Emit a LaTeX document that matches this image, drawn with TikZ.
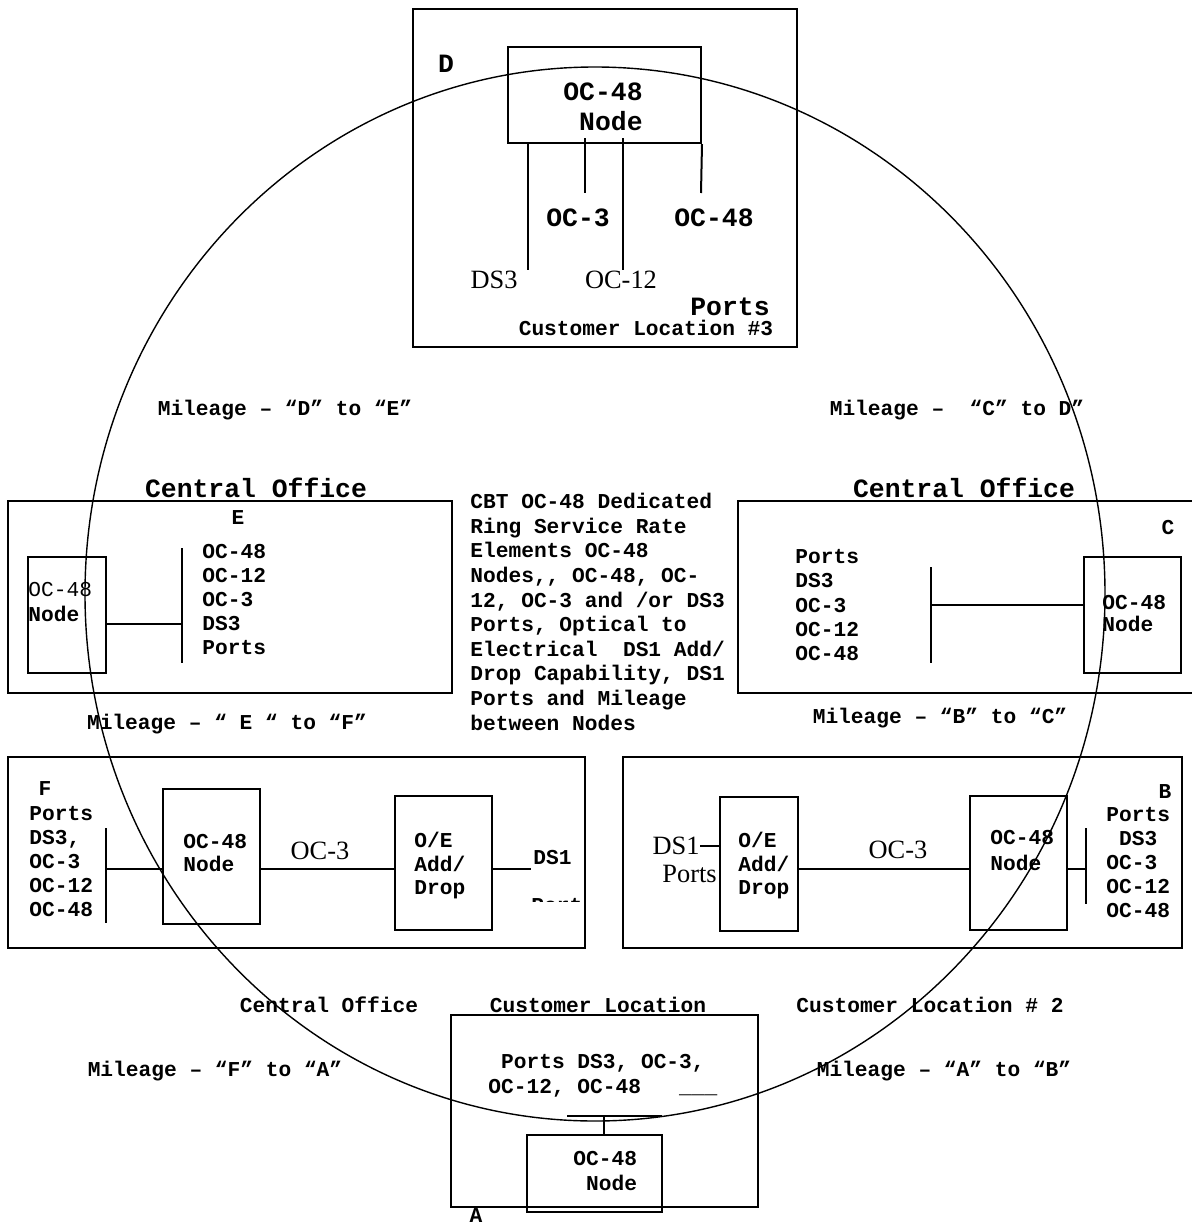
\documentclass[tikz,border=0pt]{standalone}
\usepackage{fontspec}
\setmainfont{Liberation Serif}
\newfontfamily\cour{Liberation Mono}
\usetikzlibrary{fit}

\begin{document}
\begin{tikzpicture}[x=0.5pt,y=-0.5pt,
  box/.style={draw,line width=1pt,inner sep=0pt},
  wire/.style={line width=0.8pt},
  lbl/.style={inner sep=0pt,text depth=0pt},
  cbig/.style={font=\cour\bfseries\fontsize{13.2}{#1}\selectfont},cbig/.default=15,
  csmall/.style={font=\cour\bfseries\fontsize{10.6}{#1}\selectfont},csmall/.default=12.2,
  tms/.style={font=\fontsize{13.2}{15}\selectfont},
  list/.style={lbl,align=left,anchor=north west}]
  \useasboundingbox (0,0) rectangle (1192,1226);
  % ring
  \draw[line width=0.7pt] (595,594) ellipse [x radius=255pt,y radius=263.5pt];
  % D: customer location #3
  \node[box,fit={(413,9) (797,347)}] (boxD) {};
  \node[box,fit={(508,47) (701,143)}] (nD) {};
  \node[cbig,list] (tD) at (563,82.5) {OC-48\\~Node};
  \node[cbig,lbl] (labD) at (446,64) {D};
  \coordinate (pDS3) at (528,270);
  \coordinate (pOC3) at (585,193);
  \coordinate (pOC12) at (623,270);
  \coordinate (pOC48) at (701,193);
  \draw[wire] (pDS3 |- nD.south) -- (pDS3);
  \draw[wire,shorten <=-3pt] (pOC3 |- nD.south) -- (pOC3);
  \draw[wire,shorten <=-3pt] (pOC12 |- nD.south) -- (pOC12);
  \draw[box] (nD.south east) -- (pOC48);
  \node[cbig,lbl] (dOC3) at (578,218) {OC-3};
  \node[cbig,lbl] (dOC48) at (714,218) {OC-48};
  \node[tms,lbl] (dDS3) at (494,280) {DS3};
  \node[tms,lbl] (dOC12) at (621,280) {OC-12};
  \node[cbig,lbl] (dPorts) at (730,307) {Ports};
  \node[csmall,lbl] (dCust) at (646,328) {Customer Location \#3};
  % mileage labels
  \node[csmall,lbl] (mDE) at (285,408) {Mileage – “D” to “E”};
  \node[csmall,lbl] (mCD) at (957,408) {Mileage –~ “C” to D”};
  \node[csmall,lbl] (mEF) at (227,722) {Mileage – “ E “ to “F”};
  \node[csmall,lbl] (mBC) at (940,716) {Mileage – “B” to “C”};
  \node[csmall,lbl] (mFA) at (215,1069) {Mileage – “F” to “A”};
  \node[csmall,lbl] (mAB) at (944,1069) {Mileage – “A” to “B”};
  % E: central office
  \node[cbig,lbl] (coE) at (256,488) {Central Office};
  \node[box,fit={(8,501) (452,693)}] (boxE) {};
  \node[box,fit={(28,557) (106,673)}] (nE) {};
  \node[csmall=12.5,list] (tE) at (28,582) {{\mdseries OC-48}\\Node};
  \node[csmall=12,list] (lstE) at (202,544) {OC-48\\OC-12\\OC-3\\DS3\\Ports};
  \node[csmall,lbl] (labE) at (238,518) {E};
  \coordinate (barE) at (182,624);
  \draw[box] (182,548) -- (182,663);
  \draw[wire] (nE.east |- barE) -- (barE);
  % C: central office
  \node[cbig,lbl] (coC) at (964,488) {Central Office};
  \draw[box] (1192,501) -- (738,501) -- (738,693) -- (1192,693);
  \node[box,fit={(1084,557) (1181,673)}] (nC) {};
  \node[csmall=11,list] (tC) at (1102,595) {OC-48\\Node};
  \node[csmall=12.15,list] (lstC) at (795,549) {Ports\\DS3\\OC-3\\OC-12\\OC-48};
  \node[csmall,lbl] (labC) at (1168,527) {C};
  \coordinate (barC) at (931,605);
  \draw[box] (931,567) -- (931,663);
  \draw[wire] (barC) -- (barC -| nC.west);
  % service text
  \node[csmall=12.3,list] (cbt) at (470,493) {CBT OC-48 Dedicated\\Ring Service Rate\\Elements OC-48\\Nodes,, OC-48, OC-\\12, OC-3 and /or DS3\\Ports, Optical to\\Electrical~ DS1 Add/\\Drop Capability, DS1\\Ports and Mileage\\between Nodes};
  % F: central office
  \node[box,fit={(8,757) (585,948)}] (boxF) {};
  \node[box,fit={(163,789) (260,924)}] (nF) {};
  \node[box,fit={(395,796) (492,930)}] (oeF) {};
  \node[csmall=11.6,list] (tF) at (183,834) {OC-48\\Node};
  \node[csmall=11.8,list] (tOeF) at (414,832) {O/E\\Add/\\Drop};
  \node[csmall=12,list] (lstF) at (29,806) {Ports\\DS3,\\OC-3\\OC-12\\OC-48};
  \node[csmall,lbl] (labF) at (45,789) {F};
  \coordinate (barF) at (106,869);
  \draw[box] (106,828) -- (106,923);
  \draw[wire] (barF) -- (barF -| nF.west);
  \draw[wire] (nF.east |- barF) -- (oeF.west |- barF);
  \node[tms,lbl] (oc3F) at (320,851) {OC-3};
  \coordinate (ds1F) at (531,869);
  \draw[wire] (oeF.east |- ds1F) -- (ds1F);
  \node[csmall,lbl,anchor=west] (tDs1F) at (533,857) {DS1};
  \begin{scope}
    \clip (528,893) rectangle (582,901);
    \node[csmall,lbl,anchor=west] (tPortF) at (531,905) {Ports};
  \end{scope}
  % B: customer location #2
  \node[box,fit={(623,757) (1182,948)}] (boxB) {};
  \node[box,fit={(720,797) (798,931)}] (oeB) {};
  \node[box,fit={(970,796) (1067,930)}] (nB) {};
  \node[csmall=11.8,list] (tOeB) at (738,832) {O/E\\Add/\\Drop};
  \node[csmall=13,list] (tB) at (990,830) {OC-48\\Node};
  \node[csmall=12,list] (lstB) at (1106,807) {Ports\\~DS3\\OC-3\\OC-12\\OC-48};
  \node[csmall,lbl] (labB) at (1165,792) {B};
  \coordinate (barB) at (1086,869);
  \draw[box] (1086,828) -- (1086,904);
  \draw[wire] (oeB.east |- barB) -- (nB.west |- barB);
  \draw[wire] (nB.east |- barB) -- (barB);
  \node[tms,lbl] (oc3B) at (898,850) {OC-3};
  \node[tms,lbl,anchor=east] (ds1B) at (700,846) {DS1};
  \draw[wire] (ds1B.east) -- (ds1B.east -| oeB.west);
  \node[tms,lbl,anchor=west] (portB) at (662,874) {Ports};
  % bottom labels
  \node[csmall,lbl] (coF) at (329,1005) {Central Office};
  \node[csmall,lbl] (clA) at (598,1005) {Customer Location};
  \node[csmall,lbl] (clB) at (930,1005) {Customer Location \# 2};
  % A: customer location
  \node[box,fit={(451,1015) (758,1207)}] (boxA) {};
  \node[box,fit={(527,1135) (662,1212)}] (nA) {};
  \node[csmall=12.5,list] (tA) at (573,1151) {OC-48\\~Node};
  \node[csmall=12.5,list] (pA) at (488,1054) {~Ports DS3, OC-3,\\OC-12, OC-48~~~\_\_\_};
  \coordinate (aJ) at (604,1116);
  \draw[wire] (567,1116) -- (662,1116);
  \draw[wire] (aJ) -- (aJ |- nA.north);
  \node[csmall,lbl] (labA) at (476,1216) {A};
\end{tikzpicture}
\end{document}
